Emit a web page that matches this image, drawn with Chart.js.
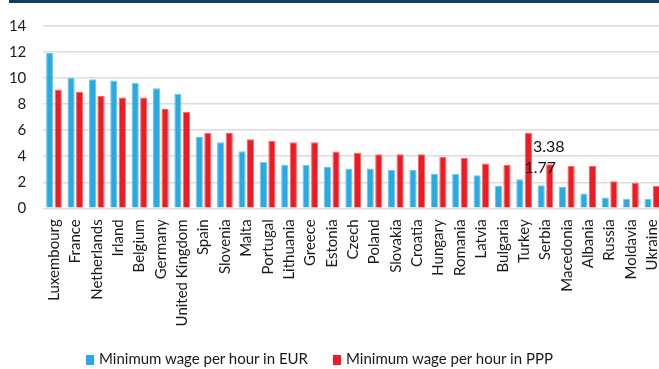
<!DOCTYPE html>
<html lang="en">
<head>
    <meta charset="UTF-8">
    <title>Minimum wage per hour</title>
    <style>
        html, body {
            margin: 0;
            padding: 0;
            background: #ffffff;
            overflow: hidden;
        }
        .topline {
            position: absolute;
            left: 9px;
            top: 0;
            width: 660px;
            height: 3px;
            background-color: #123f5f;
        }
        #wrap {
            position: relative;
            width: 663px;
            height: 369px;
        }
        #legend {
            position: absolute;
            left: 0;
            top: 348px;
            width: 659px;
            height: 20px;
            font-family: Lato, "Liberation Sans", Arial, sans-serif;
            font-size: 15px;
            color: #1a1a1a;
        }
        .legend-item {
            position: absolute;
            top: 0;
            height: 20px;
            line-height: 20px;
            white-space: nowrap;
        }
        .legend-item i {
            display: inline-block;
            width: 8px;
            height: 10px;
            margin-right: 5px;
            vertical-align: -1px;
        }
    </style>
</head>
<body>
    <div id="wrap">
        <canvas id="wageChart" width="663" height="369"></canvas>
        <div id="legend"></div>
    </div>
    <div class="topline"></div>

    <script src="https://cdn.jsdelivr.net/npm/chart.js"></script>
    <script>
        const countries = ['Luxembourg', 'France', 'Netherlands', 'Irland', 'Belgium', 'Germany', 'United Kingdom',
            'Spain', 'Slovenia', 'Malta', 'Portugal', 'Lithuania', 'Greece', 'Estonia', 'Czech', 'Poland',
            'Slovakia', 'Croatia', 'Hungary', 'Romania', 'Latvia', 'Bulgaria', 'Turkey', 'Serbia',
            'Macedonia', 'Albania', 'Russia', 'Moldavia', 'Ukraine'];

        const wageEur = [11.95, 10.01, 9.92, 9.81, 9.64, 9.21, 8.80, 5.47, 5.07, 4.39, 3.58, 3.35, 3.35, 3.18, 3.05,
            3.05, 2.95, 2.95, 2.65, 2.65, 2.54, 1.74, 2.24, 1.77, 1.64, 1.14, 0.83, 0.73, 0.73];

        const wagePpp = [9.13, 8.93, 8.63, 8.50, 8.50, 7.62, 7.42, 5.78, 5.78, 5.30, 5.17, 5.07, 5.07, 4.36, 4.26,
            4.16, 4.16, 4.16, 3.96, 3.86, 3.45, 3.35, 5.78, 3.38, 3.25, 3.25, 2.07, 1.97, 1.74];

        const yTicks = [0, 2, 4, 6, 8, 10, 12, 14];

        // only Serbia carries value labels
        const labelledIndex = countries.indexOf('Serbia');

        const FONT = 'Lato, "Liberation Sans", Arial, sans-serif';

        const valueLabels = {
            id: 'valueLabels',
            afterDatasetsDraw(chart) {
                const ctx = chart.ctx;
                ctx.save();
                ctx.font = '16px ' + FONT;
                ctx.fillStyle = '#111111';
                ctx.textAlign = 'center';
                ctx.textBaseline = 'middle';
                chart.data.datasets.forEach((ds, i) => {
                    const bar = chart.getDatasetMeta(i).data[labelledIndex];
                    const v = ds.data[labelledIndex];
                    ctx.fillText(v.toFixed(2), bar.x - 1, bar.y - 17);
                });
                ctx.restore();
            }
        };

        const chart = new Chart(document.getElementById('wageChart'), {
            type: 'bar',
            data: {
                labels: countries,
                datasets: [
                    {
                        label: 'Minimum wage per hour in EUR',
                        data: wageEur,
                        backgroundColor: '#29abe2',
                        borderColor: '#6cc5ec',
                        borderWidth: 1,
                        categoryPercentage: 0.8,
                        barPercentage: 0.84
                    },
                    {
                        label: 'Minimum wage per hour in PPP',
                        data: wagePpp,
                        backgroundColor: '#ed1c24',
                        borderColor: '#f3666b',
                        borderWidth: 1,
                        categoryPercentage: 0.8,
                        barPercentage: 0.84
                    }
                ]
            },
            options: {
                responsive: false,
                animation: false,
                layout: {
                    padding: { top: 23, left: 0, right: 0, bottom: 0 }
                },
                scales: {
                    x: {
                        grid: { display: false, drawTicks: false },
                        border: { display: false },
                        ticks: {
                            autoSkip: false,
                            maxRotation: 90,
                            minRotation: 90,
                            padding: 11,
                            color: '#1a1a1a',
                            font: { family: FONT, size: 15 }
                        },
                        afterFit(axis) {
                            axis.height = 160.7;
                            // bars run right up to the canvas edge
                            axis.paddingLeft = 0;
                            axis.paddingRight = 0;
                        }
                    },
                    y: {
                        min: 0,
                        max: 14,
                        afterBuildTicks(axis) {
                            axis.ticks = yTicks.map(v => ({ value: v }));
                        },
                        grid: {
                            color: '#dcdcdc',
                            lineWidth: 1.5,
                            drawTicks: false
                        },
                        border: { display: false },
                        ticks: {
                            padding: 17,
                            color: '#1a1a1a',
                            font: { family: FONT, size: 15 }
                        },
                        afterFit(axis) {
                            axis.width = 43.3;
                        }
                    }
                },
                plugins: {
                    tooltip: { enabled: false },
                    legend: { display: false }
                }
            },
            plugins: [valueLabels]
        });

        // legend built from the datasets
        const legendLeft = [86, 333];
        const legendEl = document.getElementById('legend');
        chart.data.datasets.forEach((ds, i) => {
            const item = document.createElement('span');
            item.className = 'legend-item';
            item.style.left = legendLeft[i] + 'px';
            const box = document.createElement('i');
            box.style.backgroundColor = ds.backgroundColor;
            item.appendChild(box);
            item.appendChild(document.createTextNode(ds.label));
            legendEl.appendChild(item);
        });
    </script>
</body>
</html>
